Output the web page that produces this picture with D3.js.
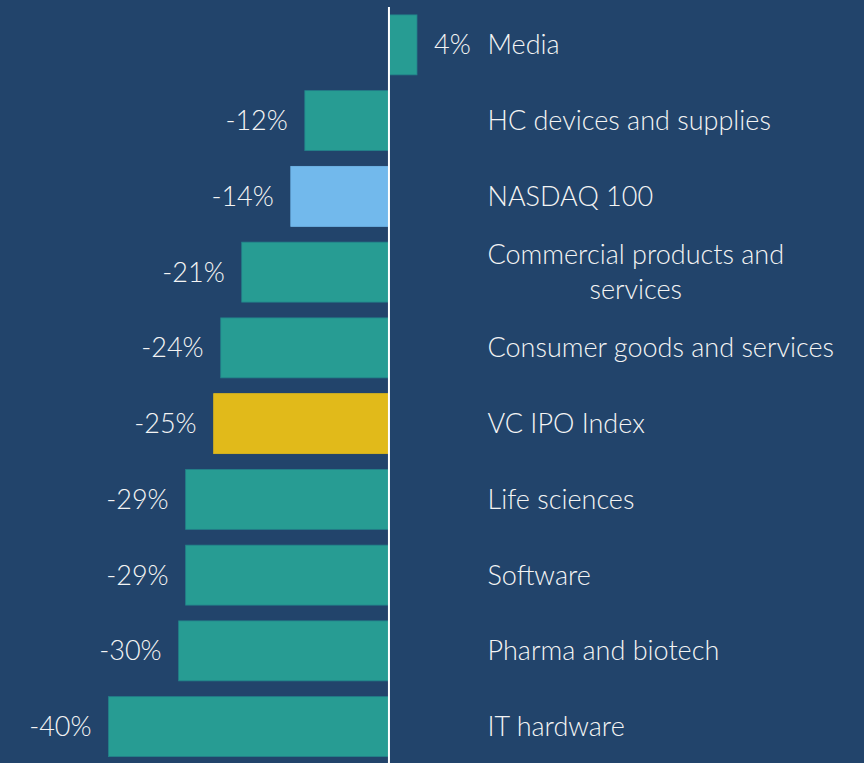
<!DOCTYPE html>
<html>
<head>
<meta charset="utf-8">
<script src="https://cdn.jsdelivr.net/npm/d3@7"></script>
<style>
  html, body { margin: 0; padding: 0; background: #22446b; }
  svg { display: block; }
  text { font-family: Lato, "Open Sans", sans-serif; font-weight: 300; fill: #f4f4f4; }
</style>
</head>
<body>
<svg id="chart" width="864" height="763"></svg>
<script>
// Sector returns, top to bottom
const categories = [
  "Media",
  "HC devices and supplies",
  "NASDAQ 100",
  "Commercial products and|services",
  "Consumer goods and services",
  "VC IPO Index",
  "Life sciences",
  "Software",
  "Pharma and biotech",
  "IT hardware"
];
const values = [4, -12, -14, -21, -24, -25, -29, -29, -30, -40];
const kinds = ["sector", "sector", "benchmark", "sector", "sector", "index", "sector", "sector", "sector", "sector"];

const colors = { sector: "#279c93", benchmark: "#72b9ec", index: "#e1ba1a" };
const strokes = { sector: "#23808a", benchmark: "#72b9ec", index: "#e1ba1a" };

const W = 864, H = 763;
const svg = d3.select("#chart");

svg.append("rect").attr("width", W).attr("height", H).attr("fill", "#22446b");

const x = d3.scaleLinear().domain([-40, 4]).range([108.5, 417]);
const y = d3.scaleBand().domain(categories).range([7, 764.5]).paddingInner(0.208).paddingOuter(0.104);

const rows = categories.map((c, i) => ({ cat: c, v: values[i], kind: kinds[i] }));

svg.append("g").selectAll("rect").data(rows).join("rect")
  .attr("x", d => x(Math.min(0, d.v)))
  .attr("y", d => y(d.cat))
  .attr("width", d => Math.abs(x(d.v) - x(0)))
  .attr("height", y.bandwidth())
  .attr("fill", d => colors[d.kind])
  .attr("stroke", d => strokes[d.kind])
  .attr("stroke-width", 0.8);

// zero line
svg.append("line")
  .attr("x1", x(0)).attr("x2", x(0))
  .attr("y1", 7).attr("y2", H)
  .attr("stroke", "#ffffff").attr("stroke-width", 2);

const fs = 27;

// value labels
svg.append("g").selectAll("text").data(rows).join("text")
  .attr("x", d => d.v < 0 ? x(d.v) - 17 : x(d.v) + 17)
  .attr("y", d => y(d.cat) + y.bandwidth() / 2)
  .attr("dy", "0.35em")
  .attr("text-anchor", d => d.v < 0 ? "end" : "start")
  .style("font-size", fs + "px")
  .text(d => (d.v < 0 ? "-" : "") + Math.abs(d.v) + "%");

// category labels
const labelX = 487.5;
const lineH = 35.7;
const lab = svg.append("g").selectAll("text").data(rows).join("text")
  .style("font-size", fs + "px")
  .attr("x", labelX)
  .attr("y", d => y(d.cat) + y.bandwidth() / 2)
  .attr("dy", "0.35em");

lab.each(function (d) {
  const parts = d.cat.split("|");
  const t = d3.select(this);
  if (parts.length === 1) { t.text(parts[0]); return; }
  const cy = y(d.cat) + y.bandwidth() / 2 - (parts.length - 1) * lineH / 2;
  t.attr("y", null).attr("dy", null);
  const first = t.append("tspan").attr("x", labelX).attr("y", cy).attr("dy", "0.35em").text(parts[0]);
  const w = first.node().getComputedTextLength();
  parts.slice(1).forEach((p, k) => {
    t.append("tspan")
      .attr("x", labelX + w / 2)
      .attr("y", cy + (k + 1) * lineH)
      .attr("dy", "0.35em")
      .attr("text-anchor", "middle")
      .text(p);
  });
});
</script>
</body>
</html>
